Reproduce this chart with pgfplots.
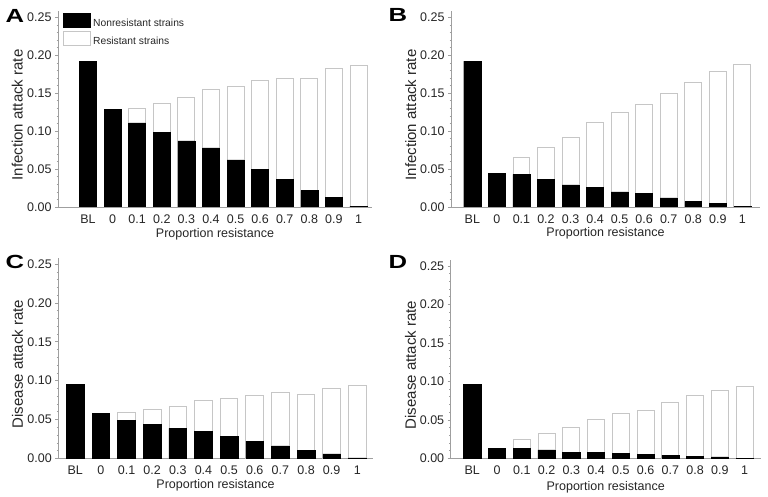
\documentclass[border=0pt]{standalone}
\usepackage{pgfplots}
\pgfplotsset{compat=1.18}
\usepackage{fontspec}
\setmainfont{Liberation Sans}

\pgfplotsset{
  panel/.style={
    scale only axis,
    ybar, bar shift=0pt,
    bar width=0.69,
    ymin=0, ymax=0.258,
    axis x line=bottom, axis y line=left,
    axis line style={draw=gray!75, -, line width=0.6pt},
    xtick={0,1,2,3,4,5,6,7,8,9,10,11},
    xticklabels={BL,0,0.1,0.2,0.3,0.4,0.5,0.6,0.7,0.8,0.9,1},
    xtick style={draw=none},
    ytick={0,0.05,0.1,0.15,0.2,0.25},
    minor y tick num=4,
    tick align=outside,
    ytick style={draw=gray!75, line width=0.5pt},
    major tick length=3pt, minor tick length=1.5pt,
    yticklabel style={/pgf/number format/.cd, fixed, fixed zerofill, precision=2},
    /pgf/number format/assume math mode=true,
    tick label style={font=\fontsize{12.5}{14}\selectfont, text=black!85},
    label style={text=black!85},
    xlabel={Proportion resistance},
    xlabel style={font=\fontsize{12.5}{14}\selectfont, anchor=center},
    ylabel style={font=\fontsize{15}{17}\selectfont, anchor=center},
    xticklabel style={yshift=-1pt},
  },
  nonres/.style={fill=black, draw=black, line width=0.5pt},
  res/.style={fill=white, draw=gray!45, line width=0.9pt},
}

% n = nonresistant strains, t = total (nonresistant + resistant)
\pgfplotstableread{
x  nA     tA     nB      tB      nC      tC      nD      tD
0  0.192  0.192  0.192   0.192   0.095   0.095   0.0957  0.0957
1  0.129  0.129  0.044   0.044   0.0575  0.0575  0.0126  0.0126
2  0.111  0.130  0.043   0.065   0.049   0.0587  0.0125  0.024
3  0.098  0.136  0.036   0.079   0.044   0.0626  0.011   0.032
4  0.087  0.144  0.029   0.092   0.0386  0.067   0.008   0.040
5  0.078  0.155  0.026   0.111   0.035   0.0746  0.0075  0.050
6  0.062  0.159  0.020   0.124   0.028   0.077   0.006   0.058
7  0.050  0.167  0.018   0.135   0.022   0.0806  0.005   0.062
8  0.036  0.170  0.012   0.149   0.016   0.0845  0.004   0.073
9  0.022  0.170  0.0075  0.164   0.010   0.082   0.0026  0.082
10 0.013  0.182  0.0044  0.178   0.0056  0.0905  0.0017  0.088
11 0.001  0.187  0.0005  0.188   0.0004  0.0935  0.0002  0.094
}\data

\begin{document}
\begin{tikzpicture}
\useasboundingbox (0pt,0pt) rectangle (768pt,497pt);

% Panel A
\begin{axis}[panel, at={(58pt,290pt)}, anchor=south west,
  width=314pt, height=195.8pt, xmin=-1.22, xmax=11.55,
  ylabel={Infection attack rate},
  ylabel style={at={(axis description cs:-0.13,0.47)}},
  xlabel style={at={(axis description cs:0.5,-0.138)}},
  legend style={at={(axis description cs:0.016,0.99)}, anchor=north west,
    draw=none, fill=none, inner sep=0pt, row sep=1pt,
    font=\fontsize{10.3}{12}\selectfont, text=black!85},
  legend cell align=left,
  reverse legend,
  legend image code/.code={\draw[#1] (0pt,-4pt) rectangle (27pt,10pt);},
]
\addplot[res] table[x=x,y=tA] {\data};
\addlegendentry{Resistant strains}
\addplot[nonres] table[x=x,y=nA] {\data};
\addlegendentry{Nonresistant strains}
\end{axis}

% Panel B
\begin{axis}[panel, at={(451pt,290pt)}, anchor=south west,
  width=309pt, height=195.8pt, xmin=-0.87, xmax=11.72,
  ylabel={Infection attack rate},
  ylabel style={at={(axis description cs:-0.13,0.47)}},
  xlabel style={at={(axis description cs:0.5,-0.133)}},
]
\addplot[res] table[x=x,y=tB] {\data};
\addplot[nonres] table[x=x,y=nB] {\data};
\end{axis}

% Panel C
\begin{axis}[panel, at={(58.3pt,38.7pt)}, anchor=south west,
  width=314.4pt, height=200.5pt, xmin=-0.66, xmax=11.6,
  ylabel={Disease attack rate},
  ylabel style={at={(axis description cs:-0.13,0.47)}},
  xlabel style={at={(axis description cs:0.5,-0.134)}},
]
\addplot[res] table[x=x,y=tC] {\data};
\addplot[nonres] table[x=x,y=nC] {\data};
\end{axis}

% Panel D
\begin{axis}[panel, at={(450.7pt,38.7pt)}, anchor=south west,
  width=310pt, height=198.5pt, xmin=-0.87, xmax=11.65,
  ylabel={Disease attack rate},
  ylabel style={at={(axis description cs:-0.13,0.47)}},
  xlabel style={at={(axis description cs:0.5,-0.146)}},
]
\addplot[res] table[x=x,y=tD] {\data};
\addplot[nonres] table[x=x,y=nD] {\data};
\end{axis}

\foreach \l/\px/\py in {A/15/481, B/398/482, C/15/235, D/398/235}{
  \node[font=\fontsize{19}{19}\selectfont\bfseries, xscale=1.35, inner sep=0pt] at (\px pt,\py pt) {\l};
}
\end{tikzpicture}
\end{document}
